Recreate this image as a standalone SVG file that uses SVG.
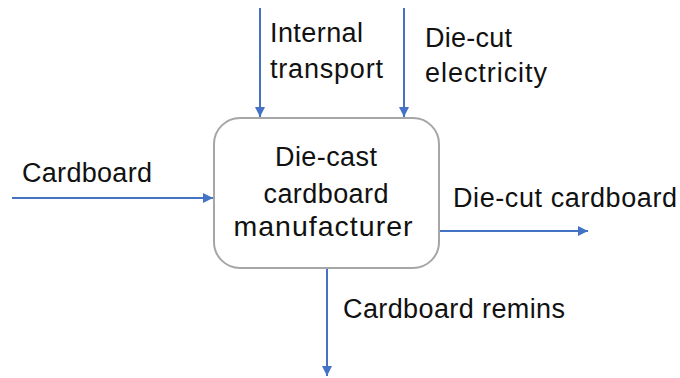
<svg xmlns="http://www.w3.org/2000/svg" width="680" height="378" viewBox="0 0 680 378">
<style>
text{font-family:"Liberation Sans",Arial,sans-serif;font-size:27px;fill:#111}
.c{stroke:#4472C4;stroke-width:2;fill:none}
</style>
<defs>
<marker id="a" viewBox="0 0 10 10" refX="10" refY="5" markerWidth="5" markerHeight="5" orient="auto" markerUnits="strokeWidth">
<path d="M0,0 L10,5 L0,10 Z" fill="#4472C4"/>
</marker>
</defs>
<rect width="680" height="378" fill="#fff"/>
<g id="manufacturer">
<rect x="214" y="118" width="225" height="150" rx="26" fill="#fff" stroke="#A6A6A6" stroke-width="2"/>
<text x="326" y="166" text-anchor="middle" textLength="102">Die-cast</text>
<text x="326" y="203" text-anchor="middle" textLength="125">cardboard</text>
<text x="323" y="236" text-anchor="middle" textLength="179" style="font-size:28.5px">manufacturer</text>
</g>
<g id="connectors">
<line class="c" x1="260" y1="8" x2="260" y2="117" marker-end="url(#a)"/>
<line class="c" x1="404" y1="8" x2="404" y2="117" marker-end="url(#a)"/>
<line class="c" x1="12" y1="198" x2="213" y2="198" marker-end="url(#a)"/>
<line class="c" x1="440" y1="231" x2="588" y2="231" marker-end="url(#a)"/>
<line class="c" x1="327" y1="269" x2="327" y2="376" marker-end="url(#a)"/>
</g>
<g id="labels">
<text x="270" y="42" textLength="93">Internal</text>
<text x="270" y="78" textLength="113">transport</text>
<text x="425" y="47" textLength="87">Die-cut</text>
<text x="425" y="82" textLength="122">electricity</text>
<text x="22" y="182" textLength="130">Cardboard</text>
<text x="453" y="207" textLength="224">Die-cut cardboard</text>
<text x="343" y="318" textLength="222">Cardboard remins</text>
</g>
</svg>
